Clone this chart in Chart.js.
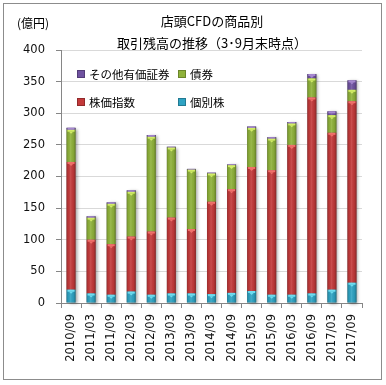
<!DOCTYPE html>
<html>
<head>
<meta charset="utf-8">
<script src="https://cdn.jsdelivr.net/npm/chart.js@4.4.1/dist/chart.umd.min.js"></script>
<style>
    body { margin: 0; background: #fff; }
    #wrap { position: relative; width: 386px; height: 385px; }
    #frame { position: absolute; left: 3px; top: 3px; width: 377px; height: 375px; border: 1px solid #8c8c8c; }
    canvas { position: absolute; left: 0; top: 0; }
    .txt { position: absolute; font-family: "Noto Sans CJK JP", sans-serif; color: #000; white-space: nowrap; }
    #unit { left: 17px; top: 14px; font-size: 12px; }
    #title { left: 62px; width: 300px; top: 10px; font-size: 13px; text-align: center; line-height: 22px; }
    .leg { position: absolute; font-family: "Noto Sans CJK JP", sans-serif; font-size: 11.5px; color: #000; white-space: nowrap; line-height: 14px; }
    .leg i { display: inline-block; width: 6px; height: 6px; margin-right: 4px; vertical-align: 1px; border: 1px solid rgba(0,0,0,0.25); }
</style>
</head>
<body>
<div id="wrap">
    <div id="frame"></div>
    <canvas id="cfdChart" width="386" height="385"></canvas>
    <div class="txt" id="unit">(億円)</div>
    <div class="txt" id="title">店頭CFDの商品別<br>取引残高の推移（3･9月末時点）</div>
    <div id="legend"></div>
</div>
<script>
// data (億円)
let labels = ["2010/09", "2011/03", "2011/09", "2012/03", "2012/09", "2013/03", "2013/09", "2014/03",
    "2014/09", "2015/03", "2015/09", "2016/03", "2016/09", "2017/03", "2017/09"];
let kobetsu = [21, 15, 13, 18, 13, 15, 15, 14, 16, 19, 13, 13, 15, 21, 32];
let kabuka = [202, 85, 80, 87, 100, 120, 102, 146, 164, 196, 197, 237, 310, 248, 287];
let saiken = [51, 35, 64, 71, 150, 111, 94, 45, 38, 62, 50, 34, 30, 28, 18];
let sonota = [3, 2, 2, 2, 2.5, 1, 1, 1, 1, 2, 2, 2, 7, 6, 15];
let yTicks = [0, 50, 100, 150, 200, 250, 300, 350, 400];

let names = ["個別株", "株価指数", "債券", "その他有価証券"];
let colors = ["#2ea3c3", "#c3393a", "#8fb23a", "#6f52a0"];
let tops = ["#6fdcef", "#f0706a", "#d2ec66", "#a688d0"];

// Legend (2 rows, inside the plot)
let legendSpots = [
    { i: 3, left: 77, top: 67 },
    { i: 2, left: 178, top: 67 },
    { i: 1, left: 77, top: 95 },
    { i: 0, left: 178, top: 95 }
];
legendSpots.forEach(function (s) {
    let d = document.createElement("div");
    d.className = "leg";
    d.style.left = s.left + "px";
    d.style.top = s.top + "px";
    d.innerHTML = '<i style="background:' + colors[s.i] + '"></i>' + names[s.i];
    document.getElementById("legend").appendChild(d);
});

// bevel look + drop shadow on the bars
let bevelPlugin = {
    id: "bevel",
    beforeDatasetsDraw: function (chart) {
        let ctx = chart.ctx;
        let first = chart.getDatasetMeta(0).data;
        let last = chart.getDatasetMeta(3).data;
        ctx.save();
        ctx.shadowColor = "rgba(0,0,0,0.35)";
        ctx.shadowBlur = 3;
        ctx.shadowOffsetX = 2;
        ctx.shadowOffsetY = 1;
        ctx.fillStyle = "#888";
        for (let i = 0; i < first.length; i++) {
            let b = first[i].getProps(["x", "base", "width"], true);
            let t = last[i].getProps(["y"], true);
            ctx.fillRect(b.x - b.width / 2, t.y, b.width, b.base - t.y);
        }
        ctx.restore();
    },
    afterDatasetsDraw: function (chart) {
        let ctx = chart.ctx;
        ctx.save();
        chart.data.datasets.forEach(function (ds, di) {
            chart.getDatasetMeta(di).data.forEach(function (el) {
                let p = el.getProps(["x", "y", "base", "width"], true);
                let l = p.x - p.width / 2;
                let h = p.base - p.y;
                if (h <= 0) return;
                let g = ctx.createLinearGradient(l, 0, l + p.width, 0);
                g.addColorStop(0, "rgba(0,0,0,0.22)");
                g.addColorStop(0.2, "rgba(0,0,0,0.05)");
                g.addColorStop(0.45, "rgba(255,255,255,0.10)");
                g.addColorStop(0.75, "rgba(0,0,0,0.05)");
                g.addColorStop(1, "rgba(0,0,0,0.30)");
                ctx.fillStyle = g;
                ctx.fillRect(l, p.y, p.width, h);
                // light top edge with small triangle
                let th = Math.min(2, h);
                ctx.fillStyle = tops[di];
                ctx.fillRect(l + 1, p.y, p.width - 2, th);
                if (h > 4) {
                    ctx.beginPath();
                    ctx.moveTo(p.x - 2, p.y + th);
                    ctx.lineTo(p.x + 2, p.y + th);
                    ctx.lineTo(p.x, p.y + th + 2);
                    ctx.closePath();
                    ctx.fill();
                }
            });
        });
        ctx.restore();
    }
};

let ctx = document.getElementById("cfdChart").getContext("2d");

let chart = new Chart(ctx, {
    type: "bar",
    data: {
        labels: labels,
        datasets: [
            { label: names[0], data: kobetsu, backgroundColor: colors[0] },
            { label: names[1], data: kabuka, backgroundColor: colors[1] },
            { label: names[2], data: saiken, backgroundColor: colors[2] },
            { label: names[3], data: sonota, backgroundColor: colors[3] }
        ]
    },
    options: {
        responsive: false,
        animation: false,
        layout: { padding: { left: 0, right: 24, top: 50, bottom: 0 } },
        datasets: {
            bar: { barPercentage: 0.45, categoryPercentage: 1, borderWidth: 0 }
        },
        plugins: {
            legend: { display: false },
            title: { display: false },
            tooltip: { enabled: false }
        },
        scales: {
            x: {
                stacked: true,
                afterFit: function (scale) { scale.height = 82; },
                grid: { drawOnChartArea: false, tickLength: 5, tickColor: "#868686", offset: true },
                border: { color: "#868686" },
                ticks: {
                    minRotation: 90, maxRotation: 90, padding: 6, autoSkip: false,
                    color: "#111", font: { family: "DejaVu Sans", size: 11.5 }
                }
            },
            y: {
                stacked: true,
                min: 0,
                max: 400,
                afterFit: function (scale) { scale.width = 61; },
                afterBuildTicks: function (scale) {
                    scale.ticks = yTicks.map(function (v) { return { value: v }; });
                },
                grid: { color: "#d9d9d9", tickColor: "#868686", tickLength: 5 },
                border: { color: "#868686" },
                ticks: { padding: 11, color: "#111", font: { family: "DejaVu Sans", size: 11.5 } }
            }
        }
    },
    plugins: [bevelPlugin]
});
</script>
</body>
</html>
